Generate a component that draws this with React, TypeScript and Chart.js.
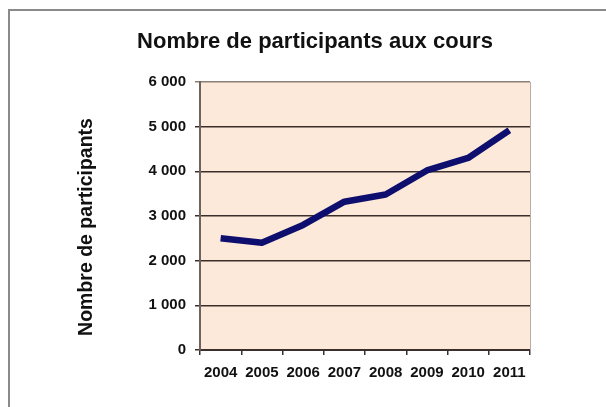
import React, { useEffect, useRef } from 'react';
import { Chart, registerables } from 'chart.js';

Chart.register(...registerables);

const years = ['2004', '2005', '2006', '2007', '2008', '2009', '2010', '2011'];
const participants = [2500, 2400, 2800, 3320, 3480, 4020, 4300, 4920];
const yTickValues = [0, 1000, 2000, 3000, 4000, 5000, 6000];
const chartTitle = 'Nombre de participants aux cours';
const yAxisTitle = 'Nombre de participants';

const FONT = '"Liberation Sans", Arial, Helvetica, sans-serif';
const fmt = (v: number) => String(v).replace(/\B(?=(\d{3})+(?!\d))/g, ' ');

const decor = {
  id: 'decor',
  beforeDraw(chart: any) {
    const { ctx, chartArea: a } = chart;
    ctx.save();
    ctx.fillStyle = '#fde9d9';
    ctx.fillRect(a.left, a.top, a.right - a.left, a.bottom - a.top);
    ctx.restore();
  },
  beforeDatasetsDraw(chart: any) {
    const { ctx, chartArea: a } = chart;
    ctx.save();
    ctx.strokeStyle = '#b7aea8';
    ctx.lineWidth = 1;
    ctx.beginPath();
    ctx.moveTo(a.right + 0.5, a.top);
    ctx.lineTo(a.right + 0.5, a.bottom);
    ctx.stroke();
    ctx.restore();
  },
  afterDraw(chart: any) {
    const { ctx } = chart;
    ctx.save();
    ctx.fillStyle = '#111';
    ctx.textAlign = 'center';
    ctx.textBaseline = 'alphabetic';
    ctx.font = `bold 22px ${FONT}`;
    ctx.fillText(chartTitle, 315, 48);
    ctx.translate(91.5, 227);
    ctx.rotate(-Math.PI / 2);
    ctx.font = `bold 19.5px ${FONT}`;
    ctx.fillText(yAxisTitle, 0, 0);
    ctx.restore();
  },
};

export default function App() {
  const ref = useRef<HTMLCanvasElement | null>(null);
  useEffect(() => {
    if (!ref.current) return;
    const chart = new Chart(ref.current, {
      type: 'line',
      data: {
        labels: years,
        datasets: [
          {
            data: participants,
            borderColor: '#0e0e6e',
            borderWidth: 6.5,
            pointRadius: 0,
            tension: 0,
            borderJoinStyle: 'round',
            borderCapStyle: 'butt',
            fill: false,
          },
        ],
      },
      options: {
        responsive: false,
        animation: false,
        devicePixelRatio: 1,
        layout: { padding: { top: 82, right: 76, bottom: 27, left: 60 } },
        plugins: {
          legend: { display: false },
          title: { display: false },
          tooltip: { enabled: false },
        },
        scales: {
          x: {
            offset: true,
            afterFit: (s: any) => {
              s.height = 30;
            },
            grid: {
              offset: true,
              drawOnChartArea: false,
              drawTicks: true,
              tickLength: 5,
              color: '#3a2f2a',
              lineWidth: 1.5,
            },
            border: { display: true, color: '#3a2f2a', width: 2 },
            ticks: {
              color: '#111',
              padding: 9,
              maxRotation: 0,
              font: { family: FONT, size: 15, weight: 'bold' },
            },
          },
          y: {
            min: yTickValues[0],
            max: yTickValues[yTickValues.length - 1],
            afterFit: (s: any) => {
              s.width = 140;
            },
            afterBuildTicks: (s: any) => {
              s.ticks = yTickValues.map((v) => ({ value: v }));
            },
            grid: {
              drawTicks: true,
              tickLength: 5,
              lineWidth: 1.5,
              color: (c: any) => (c.tick && c.tick.value === 6000 ? '#8c7f76' : '#3a2f2a'),
            },
            border: { display: true, color: '#6e625a', width: 2 },
            ticks: {
              color: '#111',
              padding: 9,
              font: { family: FONT, size: 15, weight: 'bold' },
              callback: (v: any) => fmt(Number(v)),
            },
          },
        },
      },
      plugins: [decor],
    } as any);
    return () => chart.destroy();
  }, []);

  return (
    <>
      <div
        style={{
          position: 'fixed',
          left: 8,
          top: 9,
          right: 0,
          bottom: 0,
          borderLeft: '2px solid #8a8a8a',
          borderTop: '2px solid #8a8a8a',
          boxSizing: 'border-box',
        }}
      />
      <canvas
        ref={ref}
        width={606}
        height={407}
        style={{ position: 'fixed', left: 0, top: 0, width: 606, height: 407 }}
      />
    </>
  );
}
